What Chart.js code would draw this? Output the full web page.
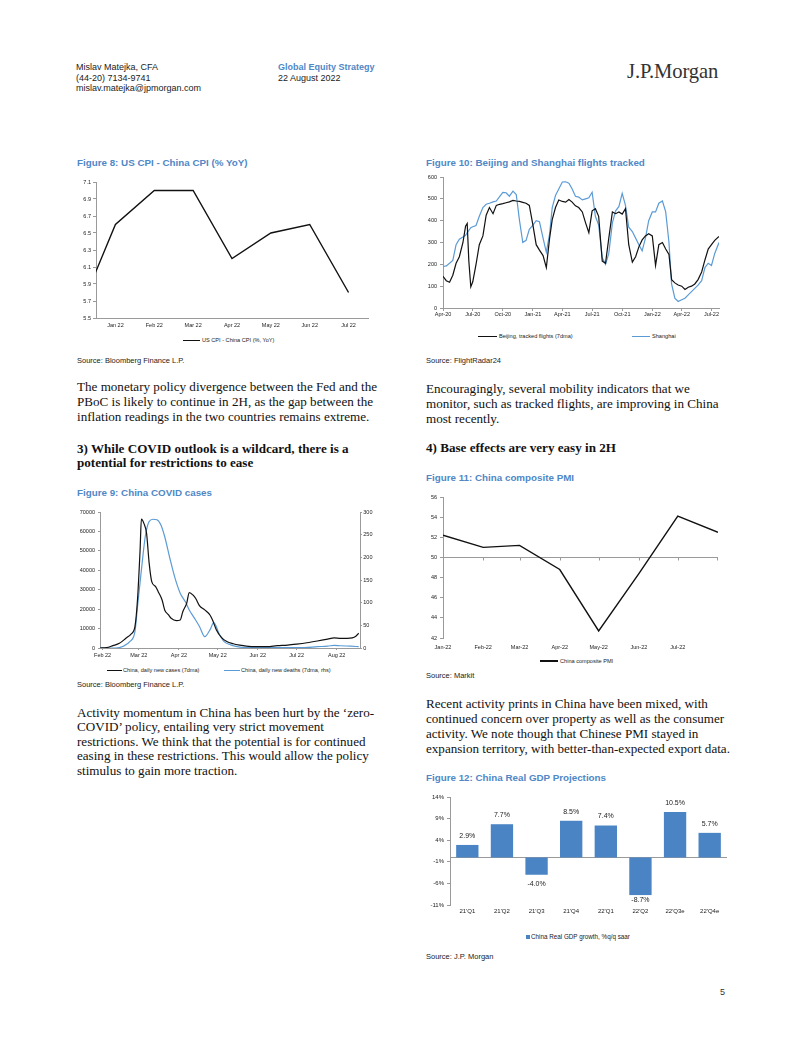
<!DOCTYPE html>
<html><head><meta charset="utf-8">
<script src="https://cdn.jsdelivr.net/npm/chart.js@4.4.0/dist/chart.umd.min.js"></script>
<style>
html,body{margin:0;padding:0;background:#fff;}
body{width:802px;height:1037px;position:relative;overflow:hidden;font-family:'Liberation Sans',Arial,sans-serif;color:#222;}
.abs{position:absolute;white-space:nowrap;}
.hdr{font-size:9px;line-height:10.5px;color:#222;}
.title{font-size:9.8px;font-weight:bold;color:#4f87c7;line-height:12px;}
.src{font-size:7.5px;line-height:9px;color:#222;}
.body{font-family:'Liberation Serif','Times New Roman',serif;font-size:13.1px;line-height:15px;color:#111;}
.head{font-family:'Liberation Serif','Times New Roman',serif;font-size:13.1px;font-weight:bold;line-height:14.5px;color:#111;}
.leg{font-size:5.6px;line-height:7px;color:#222;}
.lgl{position:absolute;height:1.4px;}
canvas{position:absolute;}
</style></head>
<body>
<!-- header -->
<div class="abs hdr" style="left:76px;top:62px">Mislav Matejka, CFA<br>(44-20) 7134-9741<br>mislav.matejka@jpmorgan.com</div>
<div class="abs hdr" style="left:278px;top:62px"><b style="color:#4f87c7">Global Equity Strategy</b><br>22 August 2022</div>
<div class="abs" style="left:627px;top:61px;font-family:'Liberation Serif','Times New Roman',serif;font-size:20.6px;line-height:21px;color:#333;letter-spacing:-0.1px">J.P.Morgan</div>

<!-- Figure 8 -->
<div class="abs title" style="left:77px;top:157px">Figure 8: US CPI - China CPI (% YoY)</div>
<canvas id="c8" width="305" height="165" style="left:70px;top:172px"></canvas>
<div class="lgl" style="left:183px;top:340px;width:17px;background:#111"></div>
<div class="abs leg" style="left:202px;top:337.2px">US CPI - China CPI (%, YoY)</div>
<div class="abs src" style="left:77px;top:355.5px">Source: Bloomberg Finance L.P.</div>

<!-- Figure 10 -->
<div class="abs title" style="left:426px;top:157px">Figure 10: Beijing and Shanghai flights tracked</div>
<canvas id="c10" width="310" height="153" style="left:415px;top:167px"></canvas>
<div class="lgl" style="left:478px;top:336px;width:19px;background:#111"></div>
<div class="abs leg" style="left:499px;top:333.2px">Beijing, tracked flights (7dma)</div>
<div class="lgl" style="left:632px;top:336px;width:18px;background:#5b9bd5"></div>
<div class="abs leg" style="left:652px;top:333.2px">Shanghai</div>
<div class="abs src" style="left:426px;top:355.5px">Source: FlightRadar24</div>

<!-- left text -->
<div class="abs body" style="left:77px;top:379px">The monetary policy divergence between the Fed and the<br>PBoC is likely to continue in 2H, as the gap between the<br>inflation readings in the two countries remains extreme.</div>
<div class="abs head" style="left:77px;top:441.5px">3) While COVID outlook is a wildcard, there is a<br>potential for restrictions to ease</div>

<!-- right text -->
<div class="abs body" style="left:426px;top:380.5px">Encouragingly, several mobility indicators that we<br>monitor, such as tracked flights, are improving in China<br>most recently.</div>
<div class="abs head" style="left:426px;top:440.75px">4) Base effects are very easy in 2H</div>

<!-- Figure 9 -->
<div class="abs title" style="left:77px;top:487px">Figure 9: China COVID cases</div>
<canvas id="c9" width="310" height="157" style="left:70px;top:503px"></canvas>
<div class="lgl" style="left:107px;top:670px;width:15px;background:#111"></div>
<div class="abs leg" style="left:123px;top:667.2px">China, daily new cases (7dma)</div>
<div class="lgl" style="left:224px;top:670px;width:16px;background:#5b9bd5"></div>
<div class="abs leg" style="left:241px;top:667.2px">China, daily new deaths (7dma, rhs)</div>
<div class="abs src" style="left:77px;top:679.5px">Source: Bloomberg Finance L.P.</div>
<div class="abs body" style="left:77px;top:705.5px;line-height:14.6px">Activity momentum in China has been hurt by the ‘zero-<br>COVID’ policy, entailing very strict movement<br>restrictions. We think that the potential is for continued<br>easing in these restrictions. This would allow the policy<br>stimulus to gain more traction.</div>

<!-- Figure 11 -->
<div class="abs title" style="left:426px;top:472px">Figure 11: China composite PMI</div>
<canvas id="c11" width="310" height="164" style="left:415px;top:488px"></canvas>
<div class="lgl" style="left:540px;top:660.3px;width:18px;background:#111"></div>
<div class="abs leg" style="left:560px;top:657.5px">China composite PMI</div>
<div class="abs src" style="left:426px;top:670.5px">Source: Markit</div>
<div class="abs body" style="left:426px;top:695.5px">Recent activity prints in China have been mixed, with<br>continued concern over property as well as the consumer<br>activity. We note though that Chinese PMI stayed in<br>expansion territory, with better-than-expected export data.</div>

<!-- Figure 12 -->
<div class="abs title" style="left:426px;top:772px">Figure 12: China Real GDP Projections</div>
<canvas id="c12" width="315" height="130" style="left:415px;top:788px"></canvas>
<div class="abs" style="left:525.5px;top:934.7px;width:4px;height:4px;background:#4a84c4"></div>
<div class="abs leg" style="left:531px;top:933.2px;font-size:6.3px">China Real GDP growth, %q/q saar</div>
<div class="abs src" style="left:426px;top:952px">Source: J.P. Morgan</div>

<div class="abs" style="left:720px;top:986px;font-size:9px;line-height:12px;color:#333">5</div>

<script>
// ---------------- DATA ----------------
// Figure 8: US CPI - China CPI (% YoY)
const cpiLabels = ['Dec 21','Jan 22','Feb 22','Mar 22','Apr 22','May 22','Jun 22','Jul 22'];
const cpiSpread = [5.5, 6.6, 7.0, 7.0, 6.2, 6.5, 6.6, 5.8];

// Figure 10: flights tracked (7dma)
const flightDates = ['2020-04-01','2020-04-11','2020-04-21','2020-05-01','2020-05-11','2020-05-21','2020-06-01','2020-06-09','2020-06-14','2020-06-19','2020-06-25','2020-07-01','2020-07-11','2020-07-21','2020-08-01','2020-08-11','2020-08-21','2020-09-01','2020-09-11','2020-09-21','2020-10-01','2020-10-11','2020-10-21','2020-11-01','2020-11-11','2020-11-21','2020-12-01','2020-12-11','2020-12-21','2021-01-01','2021-01-11','2021-01-21','2021-02-01','2021-02-11','2021-02-21','2021-03-01','2021-03-11','2021-03-21','2021-04-01','2021-04-11','2021-04-21','2021-05-01','2021-05-11','2021-05-21','2021-06-01','2021-06-11','2021-06-21','2021-07-01','2021-07-11','2021-07-21','2021-08-01','2021-08-11','2021-08-21','2021-09-01','2021-09-11','2021-09-21','2021-10-01','2021-10-11','2021-10-21','2021-11-01','2021-11-11','2021-11-21','2021-12-01','2021-12-11','2021-12-21','2022-01-01','2022-01-11','2022-01-21','2022-02-01','2022-02-11','2022-02-21','2022-03-01','2022-03-11','2022-03-21','2022-04-01','2022-04-11','2022-04-21','2022-05-01','2022-05-11','2022-05-21','2022-06-01','2022-06-11','2022-06-21','2022-07-01','2022-07-11','2022-07-24'];
const beijingFlights = [145,125,118,150,205,235,300,375,387,215,97,120,200,290,330,425,460,432,470,475,478,482,486,493,490,488,484,480,470,380,290,265,240,185,320,405,460,495,488,485,497,485,468,460,440,390,345,445,455,420,215,205,320,440,432,440,430,455,290,210,235,280,312,330,340,330,195,290,300,270,245,130,115,105,100,85,95,100,110,130,165,220,270,290,310,328];
const shanghaiFlights = [190,193,205,218,290,315,325,333,345,355,368,372,378,420,460,475,480,486,490,510,530,528,512,535,520,400,300,310,360,380,400,395,320,255,340,460,515,545,577,578,572,545,512,508,495,500,505,530,420,380,230,200,250,390,445,465,525,470,370,350,320,290,262,320,400,440,440,480,490,440,300,110,45,30,38,45,60,75,90,105,125,185,205,195,250,300];
const flightTickDates = ['2020-04-01','2020-07-01','2020-10-01','2021-01-01','2021-04-01','2021-07-01','2021-10-01','2022-01-01','2022-04-01','2022-07-01'];
const flightTickLabels = ['Apr-20','Jul-20','Oct-20','Jan-21','Apr-21','Jul-21','Oct-21','Jan-22','Apr-22','Jul-22'];

// Figure 9: China COVID cases / deaths (7dma)
const caseDates = ['2022-01-30','2022-02-04','2022-02-09','2022-02-14','2022-02-19','2022-02-23','2022-02-26','2022-02-28','2022-03-02','2022-03-03','2022-03-05','2022-03-07','2022-03-09','2022-03-11','2022-03-14','2022-03-16','2022-03-19','2022-03-21','2022-03-24','2022-03-26','2022-03-30','2022-04-02','2022-04-04','2022-04-07','2022-04-09','2022-04-12','2022-04-14','2022-04-17','2022-04-21','2022-04-25','2022-04-27','2022-04-30','2022-05-04','2022-05-08','2022-05-13','2022-05-18','2022-05-23','2022-05-31','2022-06-08','2022-06-16','2022-06-24','2022-07-01','2022-07-09','2022-07-17','2022-07-25','2022-07-30','2022-08-04','2022-08-09','2022-08-13','2022-08-16','2022-08-18'];
const covidCases = [0,170,1200,2400,5000,7200,11000,25000,50600,66300,64000,59000,43700,34200,31600,29000,24700,19600,17000,15300,14100,14400,18700,23000,28500,27200,25500,21700,19600,17000,14400,9300,5300,3300,2200,1500,1000,700,700,1200,1500,2000,2700,3600,4600,5200,5000,5000,5200,6200,7600];
const deathDates = ['2022-01-30','2022-02-11','2022-02-17','2022-02-22','2022-02-26','2022-02-28','2022-03-03','2022-03-06','2022-03-09','2022-03-12','2022-03-15','2022-03-18','2022-03-21','2022-03-25','2022-03-29','2022-04-02','2022-04-06','2022-04-09','2022-04-13','2022-04-17','2022-04-21','2022-04-25','2022-04-28','2022-05-02','2022-05-06','2022-05-11','2022-05-16','2022-05-23','2022-06-11','2022-07-07','2022-07-17','2022-07-25','2022-07-30','2022-08-04','2022-08-12','2022-08-18'];
const covidDeaths = [0,0,4,14,36,91,172,246,279,284,283,272,246,198,154,121,102,84,66,47,25,40,56,32,14,7,3,1,1,1,3,4,6,5,4,3];
const covidTickDates = ['2022-02-01','2022-03-01','2022-04-01','2022-05-01','2022-06-01','2022-07-01','2022-08-01'];
const covidTickLabels = ['Feb 22','Mar 22','Apr 22','May 22','Jun 22','Jul 22','Aug 22'];

// Figure 11: China composite PMI
const pmiDates = ['2022-01-01','2022-02-01','2022-03-01','2022-04-01','2022-05-01','2022-06-01','2022-07-01','2022-08-01'];
const pmiValues = [52.2, 51.0, 51.2, 48.8, 42.7, 48.4, 54.1, 52.5];
const pmiTickLabels = ['Jan-22','Feb-22','Mar-22','Apr-22','May-22','Jun-22','Jul-22'];
const pmiBaseline = 50;

// Figure 12: China real GDP growth, %q/q saar
const gdpLabels = ["21'Q1","21'Q2","21'Q3","21'Q4","22'Q1","22'Q2","22'Q3e","22'Q4e"];
const gdpValues = [2.9, 7.7, -4.0, 8.5, 7.4, -8.7, 10.5, 5.7];

// ---------------- CHARTS ----------------
const FONT = "'Liberation Sans', Arial, sans-serif";
Chart.defaults.font.family = FONT;
Chart.defaults.font.size = 5.5;
Chart.defaults.color = '#222';
Chart.defaults.animation = false;
Chart.defaults.responsive = false;
Chart.defaults.plugins.legend.display = false;
Chart.defaults.plugins.tooltip.enabled = false;
const AX = '#9a9a9a';
const BLUE_LINE = '#5b9bd5';
const d = s => Date.parse(s + 'T00:00:00Z');
const NOGRID = { display: false, drawTicks: false, tickLength: 0 };

function yAxis(width, tl, pad, extra) {
  return Object.assign({
    afterFit: s => { s.width = width; },
    grid: { drawOnChartArea: false, drawTicks: true, tickLength: tl, color: AX },
    border: { display: true, color: AX, width: 1 },
    ticks: { padding: pad }
  }, extra);
}

// Figure 8
new Chart(document.getElementById('c8'), {
  type: 'line',
  data: { datasets: [{ data: cpiSpread.map((v, i) => ({ x: i, y: v })), borderColor: '#111', borderWidth: 1.4, pointRadius: 0, clip: 0 }] },
  options: {
    devicePixelRatio: 1,
    layout: { padding: { top: 10, right: 7, left: 0, bottom: 0 } },
    scales: {
      x: { type: 'linear', min: 0.5, max: 7.5,
        afterFit: s => { s.height = 19; },
        afterBuildTicks: s => { s.ticks = cpiLabels.map((l, i) => ({ value: i })).filter(t => t.value >= 1); },
        ticks: { callback: v => cpiLabels[v], padding: 4.4, maxRotation: 0, autoSkip: false },
        grid: NOGRID, border: { display: true, color: AX } },
      y: yAxis(26, 3, 2, { min: 5.5, max: 7.1, ticks: { stepSize: 0.2, padding: 2, callback: v => v.toFixed(1) } })
    }
  }
});

// Figure 10
new Chart(document.getElementById('c10'), {
  type: 'line',
  data: { datasets: [
    { data: flightDates.map((s, i) => ({ x: d(s), y: beijingFlights[i] })), borderColor: '#111', borderWidth: 1.2, pointRadius: 0 },
    { data: flightDates.map((s, i) => ({ x: d(s), y: shanghaiFlights[i] })), borderColor: BLUE_LINE, borderWidth: 1.2, pointRadius: 0 }
  ] },
  options: {
    devicePixelRatio: 1,
    layout: { padding: { top: 10, right: 6, left: 0, bottom: 0 } },
    scales: {
      x: { type: 'linear', min: d(flightDates[0]), max: d(flightDates[flightDates.length - 1]),
        afterFit: s => { s.height = 12; },
        afterBuildTicks: s => { s.ticks = flightTickDates.map(t => ({ value: d(t) })); },
        ticks: { callback: (v, i) => flightTickLabels[i], padding: 0, maxRotation: 0, autoSkip: false },
        grid: { drawOnChartArea: false, drawTicks: true, tickLength: 3, color: AX }, border: { display: true, color: AX } },
      y: yAxis(28, 3, 3, { min: 0, max: 600, ticks: { stepSize: 100, padding: 3 } })
    }
  }
});

// Figure 9
new Chart(document.getElementById('c9'), {
  type: 'line',
  data: { datasets: [
    { data: caseDates.map((s, i) => ({ x: d(s), y: covidCases[i] })), borderColor: '#111', borderWidth: 1.2, pointRadius: 0, cubicInterpolationMode: 'monotone', yAxisID: 'y' },
    { data: deathDates.map((s, i) => ({ x: d(s), y: covidDeaths[i] })), borderColor: BLUE_LINE, borderWidth: 1.2, pointRadius: 0, cubicInterpolationMode: 'monotone', yAxisID: 'y2' }
  ] },
  options: {
    devicePixelRatio: 1,
    layout: { padding: { top: 9, right: 0, left: 0, bottom: 0 } },
    scales: {
      x: { type: 'linear', min: d('2022-01-30'), max: d('2022-08-19'),
        afterFit: s => { s.height = 12; },
        afterBuildTicks: s => { s.ticks = covidTickDates.map(t => ({ value: d(t) })); },
        ticks: { callback: (v, i) => covidTickLabels[i], padding: 2.4, maxRotation: 0, autoSkip: false },
        grid: { drawOnChartArea: false, drawTicks: true, tickLength: 2, color: AX }, border: { display: true, color: AX } },
      y: yAxis(30, 2, 3, { position: 'left', min: 0, max: 70000, ticks: { stepSize: 10000, padding: 3, callback: v => String(v) } }),
      y2: yAxis(20, 2, 1.3, { position: 'right', min: 0, max: 300, ticks: { stepSize: 50, padding: 1.3 } })
    }
  }
});

// Figure 11
const pmiAxisPlugin = {
  id: 'pmiAxis',
  beforeDatasetsDraw(chart) {
    const { ctx, chartArea: a, scales: { x, y } } = chart;
    const py = Math.round(y.getPixelForValue(pmiBaseline)) + 0.5;
    ctx.save();
    ctx.strokeStyle = AX; ctx.lineWidth = 1;
    ctx.beginPath();
    ctx.moveTo(a.left, py); ctx.lineTo(a.right, py);
    x.ticks.forEach(t => { const px = Math.round(x.getPixelForValue(t.value)) + 0.5; ctx.moveTo(px, py); ctx.lineTo(px, py + 3); });
    ctx.moveTo(a.right - 0.5, py); ctx.lineTo(a.right - 0.5, py + 3);
    ctx.stroke();
    ctx.restore();
  }
};
new Chart(document.getElementById('c11'), {
  type: 'line',
  data: { datasets: [{ data: pmiDates.map((s, i) => ({ x: d(s), y: pmiValues[i] })), borderColor: '#111', borderWidth: 1.4, pointRadius: 0 }] },
  options: {
    devicePixelRatio: 1,
    layout: { padding: { top: 9, right: 7, left: 0, bottom: 0 } },
    scales: {
      x: { type: 'linear', min: d(pmiDates[0]), max: d(pmiDates[pmiDates.length - 1]),
        afterFit: s => { s.height = 14; },
        afterBuildTicks: s => { s.ticks = pmiTickLabels.map((l, i) => ({ value: d(pmiDates[i]) })); },
        ticks: { callback: (v, i) => pmiTickLabels[i], padding: 6, maxRotation: 0, autoSkip: false },
        grid: NOGRID, border: { display: false } },
      y: yAxis(28, 3, 3, { min: 42, max: 56, ticks: { stepSize: 2, padding: 3 } })
    }
  },
  plugins: [pmiAxisPlugin]
});

// Figure 12
const gdpPlugin = {
  id: 'gdpDecor',
  beforeDatasetsDraw(chart) {
    const { ctx, chartArea: a, scales: { y } } = chart;
    const py = Math.round(y.getPixelForValue(0)) + 0.5;
    ctx.save(); ctx.strokeStyle = AX; ctx.lineWidth = 1;
    ctx.beginPath(); ctx.moveTo(a.left, py); ctx.lineTo(a.right, py); ctx.stroke(); ctx.restore();
  },
  afterDatasetsDraw(chart) {
    const { ctx, chartArea: a } = chart;
    const meta = chart.getDatasetMeta(0);
    ctx.save();
    ctx.font = '7px ' + FONT; ctx.fillStyle = '#222'; ctx.textAlign = 'center'; ctx.textBaseline = 'middle';
    meta.data.forEach((bar, i) => {
      const v = gdpValues[i];
      let ty = v >= 0 ? bar.y - 9 : bar.y + 9;
      ty = Math.min(ty, a.bottom - 4.5);
      ctx.fillText(v.toFixed(1) + '%', bar.x, ty);
    });
    ctx.restore();
  }
};
new Chart(document.getElementById('c12'), {
  type: 'bar',
  data: { labels: gdpLabels, datasets: [{ data: gdpValues, backgroundColor: '#4a84c4', borderWidth: 0, categoryPercentage: 1, barPercentage: 0.645 }] },
  options: {
    devicePixelRatio: 1,
    layout: { padding: { top: 9, right: 3, left: 0, bottom: 0 } },
    scales: {
      x: { afterFit: s => { s.height = 13; },
        ticks: { padding: 3, maxRotation: 0, autoSkip: false, font: { size: 6 } },
        grid: NOGRID, border: { display: false } },
      y: yAxis(35, 3, 3, { min: -11, max: 14, ticks: { stepSize: 5, padding: 3, font: { size: 6 }, callback: v => v + '%' } })
    }
  },
  plugins: [gdpPlugin]
});
</script>
</body></html>
